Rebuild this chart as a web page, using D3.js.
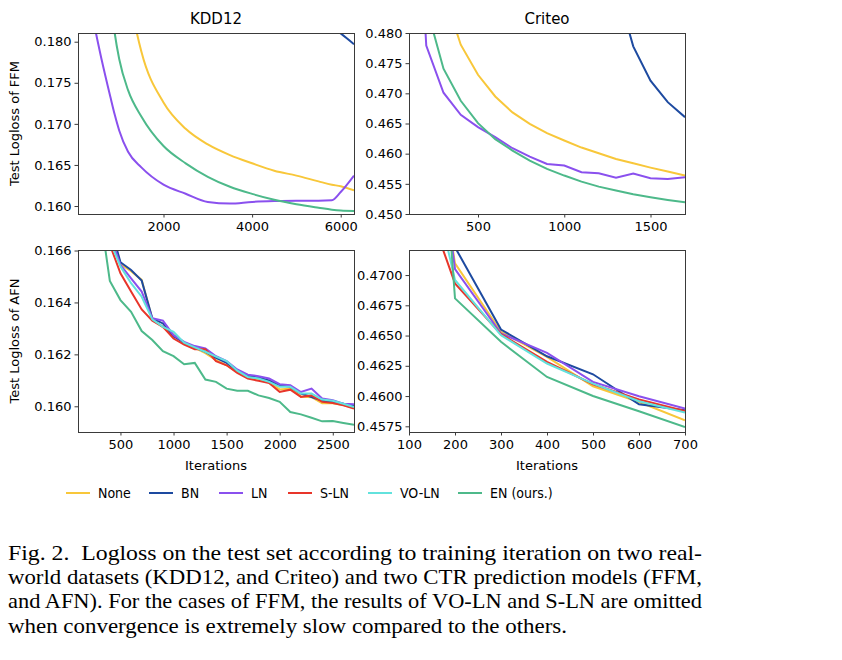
<!DOCTYPE html>
<head>
  <meta charset="utf-8">
  <script src="https://d3js.org/d3.v7.min.js"></script>
  <style>
    body { margin: 0; background: #fff; }
    .frame { fill: none; stroke: #3a3a3a; stroke-width: 1; }
    .axis text { font-family: "DejaVu Sans", sans-serif; font-size: 13px; fill: #000; }
    .axis line { stroke: #3a3a3a; }
    .axis path { display: none; }
    .title { font-family: "DejaVu Sans", sans-serif; font-size: 15px; text-anchor: middle; }
    .label { font-family: "DejaVu Sans", sans-serif; font-size: 13px; text-anchor: middle; }
    .line { fill: none; stroke-width: 2; }
    .legend text { font-family: "DejaVu Sans Condensed", "DejaVu Sans", sans-serif; font-size: 14px; }
    .caption { font-family: "Liberation Serif", "Times New Roman", serif; font-size: 22px; white-space: pre; }
  </style>
</head>
<body>
<div id="chart"></div>
<script>
// ---- data ----
var methods = ['None', 'BN', 'LN', 'S-LN', 'VO-LN', 'EN (ours.)'];
var colors  = ['#f8c73a', '#1d4aa0', '#8a50ee', '#e8352a', '#62e2dd', '#4db98a'];

// KDD12 / FFM (smooth curves, null = not shown)
var kddFfmIters = [400, 600, 800, 900, 1000, 1200, 1500, 2000, 2500, 3000, 3500, 4000, 4500, 5000, 5500, 5800, 6000, 6300];
var kddFfmNone = [null, null, null, null, 0.1935, 0.1865, 0.1788, 0.1726, 0.1694, 0.1675, 0.1662, 0.1652, 0.1643, 0.1637, 0.1630, 0.1626, 0.1624, 0.1619];
var kddFfmBN   = [null, null, null, null, null, null, null, null, null, null, null, null, null, null, null, 0.1818, 0.1810, 0.1797];
var kddFfmLN   = [0.1830, 0.1779, 0.1733, 0.1711, 0.1692, 0.1666, 0.1647, 0.1626, 0.1615, 0.1605, 0.1603, 0.1605, 0.1606, 0.16065, 0.16065, 0.1607, 0.1617, 0.1637];
var kddFfmEN   = [0.205, 0.193, 0.1855, 0.1810, 0.1779, 0.1741, 0.1709, 0.1673, 0.1652, 0.16356, 0.16235, 0.16148, 0.16076, 0.16022, 0.15979, 0.15955, 0.15945, 0.1594];

// Criteo / FFM
var criFfmIters = [100, 200, 300, 400, 500, 600, 700, 800, 900, 1000, 1100, 1200, 1300, 1400, 1500, 1600, 1700];
var criFfmNone = [null, 0.4985, 0.48687, 0.47806, 0.47308, 0.46948, 0.46683, 0.46494, 0.46339, 0.46218, 0.46101, 0.46007, 0.45913, 0.45841, 0.45769, 0.45703, 0.45637];
var criFfmBN   = [null, null, null, null, null, null, null, null, null, null, 0.507, 0.4965, 0.4878, 0.47779, 0.47209, 0.46854, 0.46605];
var criFfmLN   = [0.53, 0.4779, 0.4701, 0.46644, 0.4644, 0.46273, 0.4609, 0.45952, 0.4583, 0.45803, 0.45692, 0.45675, 0.45603, 0.4567, 0.45592, 0.45581, 0.45609];
var criFfmEN   = [0.53, 0.48447, 0.47408, 0.46876, 0.46506, 0.4624, 0.46052, 0.45886, 0.45747, 0.45637, 0.45537, 0.45454, 0.45388, 0.45327, 0.45277, 0.45233, 0.45194];

// KDD12 / AFN
var kddAfnIters = [300, 400, 500, 600, 700, 800, 900, 1000, 1100, 1200, 1300, 1400, 1500, 1600, 1700, 1800, 1900, 2000, 2100, 2200, 2300, 2400, 2500, 2600, 2700];
var kddAfnNone = [0.1705, 0.1670, 0.16548, 0.1652, 0.16487, 0.16335, 0.16305, 0.16275, 0.16242, 0.16225, 0.16205, 0.16178, 0.16158, 0.16132, 0.16112, 0.16105, 0.16092, 0.16065, 0.16068, 0.16038, 0.16035, 0.16012, 0.16012, 0.16005, 0.15993];
var kddAfnBN   = [0.1705, 0.1670, 0.16555, 0.16525, 0.16484, 0.16339, 0.16319, 0.1627, 0.16245, 0.16227, 0.1621, 0.16187, 0.16167, 0.16137, 0.16117, 0.16111, 0.161, 0.16081, 0.16075, 0.16049, 0.16036, 0.16021, 0.16017, 0.1601, 0.16001];
var kddAfnLN   = [0.1700, 0.16662, 0.16545, 0.16493, 0.16442, 0.16339, 0.1633, 0.16274, 0.16248, 0.16232, 0.16223, 0.16193, 0.16174, 0.16142, 0.16122, 0.16116, 0.16107, 0.16085, 0.16081, 0.16055, 0.16068, 0.1603, 0.16023, 0.1601, 0.16008];
var kddAfnSLN  = [0.1695, 0.16623, 0.16512, 0.16442, 0.16373, 0.1633, 0.16306, 0.16261, 0.16238, 0.1622, 0.1622, 0.16174, 0.16158, 0.16129, 0.16107, 0.16098, 0.1609, 0.16055, 0.16064, 0.16036, 0.16042, 0.16017, 0.16013, 0.16004, 0.15991];
var kddAfnVOLN = [0.1698, 0.16637, 0.16538, 0.16474, 0.16422, 0.16335, 0.16306, 0.16287, 0.16245, 0.16227, 0.1621, 0.16191, 0.16174, 0.16137, 0.16113, 0.16107, 0.16094, 0.16075, 0.16075, 0.16049, 0.16049, 0.16026, 0.16021, 0.1601, 0.15997];
var kddAfnEN   = [0.16768, 0.16483, 0.16409, 0.16364, 0.1629, 0.16255, 0.16212, 0.16193, 0.16162, 0.16167, 0.16103, 0.16094, 0.16068, 0.1606, 0.1606, 0.16042, 0.16032, 0.16017, 0.15978, 0.15969, 0.15956, 0.15942, 0.15943, 0.15936, 0.15929];

// Criteo / AFN
var criAfnIters = [100, 200, 300, 400, 500, 600, 700];
var criAfnNone = [0.495, 0.47097, 0.46531, 0.46324, 0.46081, 0.45951, 0.45800];
var criAfnBN   = [0.495, 0.47230, 0.46550, 0.46329, 0.46180, 0.45932, 0.45882];
var criAfnLN   = [0.500, 0.47050, 0.46517, 0.46357, 0.46117, 0.45998, 0.45896];
var criAfnSLN  = [0.480, 0.46931, 0.46512, 0.46283, 0.46098, 0.45971, 0.45877];
var criAfnVOLN = [0.486, 0.46959, 0.46503, 0.46269, 0.46103, 0.45957, 0.45863];
var criAfnEN   = [0.520, 0.46807, 0.46448, 0.46158, 0.46001, 0.45874, 0.45744];

var captionLines = [
  'Fig. 2.  Logloss on the test set according to training iteration on two real-',
  'world datasets (KDD12, and Criteo) and two CTR prediction models (FFM,',
  'and AFN). For the cases of FFM, the results of VO-LN and S-LN are omitted',
  'when convergence is extremely slow compared to the others.'
];

// ---- layout ----
var W = 842, H = 660;
var svg = d3.select('#chart').append('svg')
    .attr('width', W)
    .attr('height', H);

var colL = {x0: 78, x1: 354}, colR = {x0: 409, x1: 685};
var rowT = {y0: 33, y1: 214}, rowB = {y0: 250, y1: 432};

var panels = [
  {id: 'p1', col: colL, row: rowT, xd: [70, 6300], yd: [0.15903, 0.18106],
   xt: [2000, 4000, 6000], yt: [0.160, 0.165, 0.170, 0.175, 0.180], yf: '.3f', curve: d3.curveMonotoneX,
   iters: kddFfmIters, series: [kddFfmNone, kddFfmBN, kddFfmLN, null, null, kddFfmEN]},
  {id: 'p2', col: colR, row: rowT, xd: [100, 1700], yd: [0.450, 0.480],
   xt: [500, 1000, 1500], yt: [0.450, 0.455, 0.460, 0.465, 0.470, 0.475, 0.480], yf: '.3f', curve: d3.curveLinear,
   iters: criFfmIters, series: [criFfmNone, criFfmBN, criFfmLN, null, null, criFfmEN]},
  {id: 'p3', col: colL, row: rowB, xd: [100, 2700], yd: [0.15901, 0.16602],
   xt: [500, 1000, 1500, 2000, 2500], yt: [0.160, 0.162, 0.164, 0.166], yf: '.3f', curve: d3.curveLinear,
   iters: kddAfnIters, series: [kddAfnNone, kddAfnBN, kddAfnLN, kddAfnSLN, kddAfnVOLN, kddAfnEN]},
  {id: 'p4', col: colR, row: rowB, xd: [100, 700], yd: [0.45703, 0.47207],
   xt: [100, 200, 300, 400, 500, 600, 700], yt: [0.4575, 0.4600, 0.4625, 0.4650, 0.4675, 0.4700], yf: '.4f', curve: d3.curveLinear,
   iters: criAfnIters, series: [criAfnNone, criAfnBN, criAfnLN, criAfnSLN, criAfnVOLN, criAfnEN]}
];

panels.forEach(function(p) {
  var x = d3.scaleLinear().domain(p.xd).range([p.col.x0, p.col.x1]);
  var y = d3.scaleLinear().domain(p.yd).range([p.row.y1, p.row.y0]);

  svg.append('clipPath').attr('id', 'clip-' + p.id)
    .append('rect')
      .attr('x', p.col.x0).attr('y', p.row.y0)
      .attr('width', p.col.x1 - p.col.x0).attr('height', p.row.y1 - p.row.y0);

  var line = d3.line()
      .defined(function(d) { return d[1] != null; })
      .x(function(d) { return x(d[0]); })
      .y(function(d) { return y(d[1]); })
      .curve(p.curve);

  var g = svg.append('g').attr('clip-path', 'url(#clip-' + p.id + ')');
  p.series.forEach(function(vals, i) {
    if (!vals) return;
    var pts = p.iters.map(function(it, j) { return [it, vals[j]]; });
    g.append('path')
      .attr('class', 'line')
      .attr('d', line(pts))
      .style('stroke', colors[i]);
  });

  svg.append('g')
    .attr('class', 'axis')
    .attr('transform', 'translate(0,' + p.row.y1 + ')')
    .call(d3.axisBottom(x).tickValues(p.xt).tickFormat(d3.format('d'))
      .tickSizeInner(3.5).tickSizeOuter(0).tickPadding(4));

  svg.append('g')
    .attr('class', 'axis')
    .attr('transform', 'translate(' + p.col.x0 + ',0)')
    .call(d3.axisLeft(y).tickValues(p.yt).tickFormat(d3.format(p.yf))
      .tickSizeInner(3.5).tickSizeOuter(0).tickPadding(3));

  svg.append('rect')
    .attr('class', 'frame')
    .attr('x', p.col.x0 + 0.5).attr('y', p.row.y0 + 0.5)
    .attr('width', p.col.x1 - p.col.x0).attr('height', p.row.y1 - p.row.y0);
});

// titles and labels
svg.append('text').attr('class', 'title').attr('x', (colL.x0 + colL.x1) / 2).attr('y', 24).text('KDD12');
svg.append('text').attr('class', 'title').attr('x', (colR.x0 + colR.x1) / 2).attr('y', 24).text('Criteo');

svg.append('text').attr('class', 'label')
  .attr('transform', 'translate(19,' + (rowT.y0 + rowT.y1) / 2 + ') rotate(-90)')
  .text('Test Logloss of FFM');
svg.append('text').attr('class', 'label')
  .attr('transform', 'translate(19,' + (rowB.y0 + rowB.y1) / 2 + ') rotate(-90)')
  .text('Test Logloss of AFN');

svg.append('text').attr('class', 'label').attr('x', (colL.x0 + colL.x1) / 2).attr('y', 470).text('Iterations');
svg.append('text').attr('class', 'label').attr('x', (colR.x0 + colR.x1) / 2).attr('y', 470).text('Iterations');

// legend
var legendX = [66, 149, 219, 288, 368, 458];
var legend = svg.append('g').attr('class', 'legend');
methods.forEach(function(m, i) {
  legend.append('line')
    .attr('x1', legendX[i]).attr('x2', legendX[i] + 24)
    .attr('y1', 493).attr('y2', 493)
    .style('stroke', colors[i]).style('stroke-width', 2);
  legend.append('text')
    .attr('x', legendX[i] + 32).attr('y', 498)
    .text(m);
});

// caption
captionLines.forEach(function(t, i) {
  svg.append('text')
    .attr('class', 'caption')
    .attr('x', 8)
    .attr('y', 560 + i * 24.2)
    .attr('textLength', i < 3 ? 694 : 559)
    .attr('lengthAdjust', 'spacingAndGlyphs')
    .text(t);
});
</script>
</body>
